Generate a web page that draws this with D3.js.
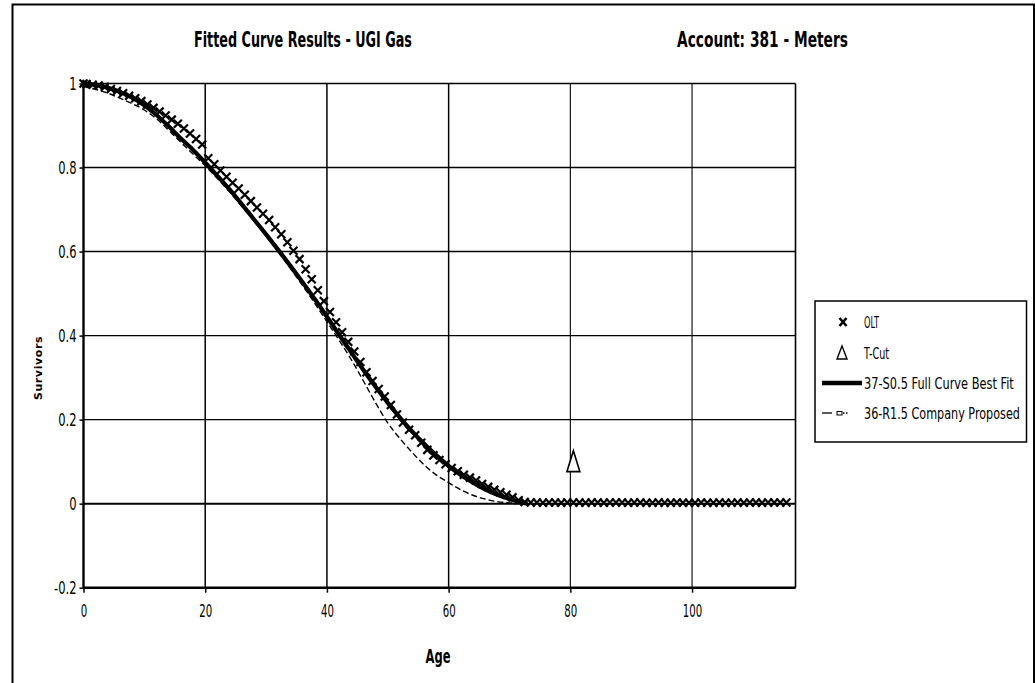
<!DOCTYPE html>
<html>
<head>
<meta charset="utf-8">
<script src="https://cdn.jsdelivr.net/npm/d3@7"></script>
<style>
  html, body { margin: 0; padding: 0; background: #fff; }
  svg { display: block; }
  text { font-family: "DejaVu Sans", "Liberation Sans", sans-serif; fill: #000; }
</style>
</head>
<body>
<svg id="chart" width="1035" height="683"></svg>
<script>
// ---------------- DATA ----------------
const titleLeft = "Fitted Curve Results - UGI Gas";
const titleRight = "Account:  381 - Meters";
const xLabel = "Age";
const yLabel = "Survivors";

const xTicks = [0, 20, 40, 60, 80, 100];
const yTicks = [1, 0.8, 0.6, 0.4, 0.2, 0, -0.2];
const yTickLabels = ["1", "0.8", "0.6", "0.4", "0.2", "0", "-0.2"];

// OLT (observed life table) ages and survivor ratios
const oltAges = [0, 0.5, 1.5, 2.5, 3.5, 4.5, 5.5, 6.5, 7.5, 8.5, 9.5, 10.5, 11.5, 12.5, 13.5, 14.5, 15.5, 16.5, 17.5, 18.5, 19.5,
  20.5, 21.5, 22.5, 23.5, 24.5, 25.5, 26.5, 27.5, 28.5, 29.5, 30.5, 31.5, 32.5, 33.5, 34.5, 35.5, 36.5, 37.5, 38.5, 39.5,
  40.5, 41.5, 42.5, 43.5, 44.5, 45.5, 46.5, 47.5, 48.5, 49.5, 50.5, 51.5, 52.5, 53.5, 54.5, 55.5, 56.5, 57.5, 58.5, 59.5,
  60.5, 61.5, 62.5, 63.5, 64.5, 65.5, 66.5, 67.5, 68.5, 69.5, 70.5, 71.5, 72.5, 73.5, 74.5, 75.5, 76.5, 77.5, 78.5, 79.5,
  80.5, 81.5, 82.5, 83.5, 84.5, 85.5, 86.5, 87.5, 88.5, 89.5, 90.5, 91.5, 92.5, 93.5, 94.5, 95.5, 96.5, 97.5, 98.5, 99.5,
  100.5, 101.5, 102.5, 103.5, 104.5, 105.5, 106.5, 107.5, 108.5, 109.5, 110.5, 111.5, 112.5, 113.5, 114.5, 115.5];
const oltValues = [1.000, 0.999, 0.997, 0.995, 0.992, 0.987, 0.982, 0.977, 0.971, 0.965, 0.958, 0.950, 0.942, 0.933, 0.924, 0.914, 0.904, 0.893, 0.881, 0.868, 0.855,
  0.822, 0.808, 0.793, 0.778, 0.764, 0.750, 0.735, 0.720, 0.705, 0.690, 0.675, 0.658, 0.641, 0.622, 0.602, 0.582, 0.558, 0.534, 0.508, 0.482,
  0.456, 0.432, 0.408, 0.385, 0.362, 0.337, 0.313, 0.292, 0.273, 0.255, 0.235, 0.212, 0.193, 0.176, 0.163, 0.145, 0.128, 0.115, 0.104, 0.094,
  0.085, 0.077, 0.069, 0.062, 0.055, 0.047, 0.040, 0.033, 0.027, 0.021, 0.015, 0.008, 0.004, 0.003, 0.003, 0.002, 0.003, 0.003, 0.002, 0.003,
  0.003, 0.003, 0.002, 0.003, 0.003, 0.002, 0.003, 0.003, 0.003, 0.002, 0.003, 0.003, 0.002, 0.002, 0.003, 0.002, 0.002, 0.003, 0.002, 0.002,
  0.002, 0.003, 0.002, 0.002, 0.003, 0.002, 0.002, 0.003, 0.002, 0.003, 0.003, 0.002, 0.003, 0.003, 0.003, 0.003];

// Fitted Iowa curves
const curveAges = [0, 2, 4, 6, 8, 10, 12, 14, 16, 18, 20, 22, 24, 26, 28, 30, 32, 34, 36, 38, 40,
  42, 44, 46, 48, 50, 52, 54, 56, 58, 60, 62, 64, 66, 68, 70, 72, 73];
const s05Values = [1.000, 0.997, 0.990, 0.980, 0.966, 0.948, 0.925, 0.898, 0.869, 0.842, 0.812, 0.780, 0.748, 0.713, 0.677, 0.641, 0.604, 0.566, 0.527, 0.487, 0.445,
  0.402, 0.360, 0.318, 0.278, 0.240, 0.205, 0.172, 0.142, 0.115, 0.090, 0.068, 0.050, 0.034, 0.021, 0.011, 0.003, 0.000];
const r15Values = [0.993, 0.986, 0.977, 0.965, 0.952, 0.937, 0.916, 0.889, 0.860, 0.832, 0.804, 0.774, 0.742, 0.708, 0.673, 0.637, 0.599, 0.560, 0.519, 0.477, 0.433,
  0.389, 0.343, 0.292, 0.240, 0.192, 0.155, 0.122, 0.092, 0.068, 0.050, 0.033, 0.020, 0.011, 0.005, 0.002, 0.000, 0.000];

const tCutAge = [80.5];
const tCutValue = [0.1];

const legendLabels = ["OLT", "T-Cut", "37-S0.5 Full Curve Best Fit", "36-R1.5 Company Proposed"];

// ---------------- LAYOUT ----------------
const svg = d3.select("#chart");
const plot = { left: 83.5, right: 795.5, top: 83.5, bottom: 587.7 };
const x = d3.scaleLinear().domain([0, 117]).range([plot.left, plot.right]);
const y = d3.scaleLinear().domain([-0.2, 1]).range([plot.bottom, plot.top]);

// text helper: draw text, then squeeze it horizontally to a measured width
function fitText(g, str, px, py, size, width, weight, anchor) {
  const t = g.append("text").attr("x", 0).attr("y", 0).attr("font-size", size)
    .attr("font-weight", weight || "normal").attr("text-anchor", anchor || "start").text(str);
  const w = t.node().getComputedTextLength();
  const k = width / w;
  t.attr("transform", `translate(${px},${py}) scale(${k},1)`);
  return t;
}
function squeeze(sel, k, baseX) {
  sel.each(function () {
    d3.select(this).attr("x", baseX / k).attr("transform", `scale(${k},1)`);
  });
}

// outer frame
svg.append("rect").attr("x", 12.5).attr("y", 4.5).attr("width", 1021.5).attr("height", 700)
  .attr("fill", "none").attr("stroke", "#000").attr("stroke-width", 2);

// titles
fitText(svg, titleLeft, 194, 47, 21.5, 218, "bold");
fitText(svg, titleRight, 677, 47, 21.5, 171, "bold");

// gridlines
const grid = svg.append("g");
grid.selectAll("line.h").data(yTicks).enter().append("line")
  .attr("x1", plot.left).attr("x2", plot.right)
  .attr("y1", d => y(d)).attr("y2", d => y(d))
  .attr("stroke", "#000").attr("stroke-width", d => d === 0 ? 2 : 1.4);
grid.selectAll("line.v").data(xTicks.filter(d => d > 0)).enter().append("line")
  .attr("x1", d => x(d)).attr("x2", d => x(d))
  .attr("y1", plot.top).attr("y2", plot.bottom)
  .attr("stroke", "#000").attr("stroke-width", d => d >= 80 ? 1.1 : 1.5);
grid.append("line").attr("x1", plot.right).attr("x2", plot.right).attr("y1", plot.top).attr("y2", plot.bottom)
  .attr("stroke", "#000").attr("stroke-width", 1.6);

// axes
const yAxis = d3.axisLeft(y).tickValues(yTicks).tickSize(4).tickFormat((d, i) => yTickLabels[i]);
const gy = svg.append("g").attr("transform", `translate(${plot.left},0)`).call(yAxis);
const xAxis = d3.axisBottom(x).tickValues(xTicks).tickSize(5).tickFormat(d3.format("d"));
const gx = svg.append("g").attr("transform", `translate(0,${plot.bottom})`).call(xAxis);
[gx, gy].forEach(g => {
  g.select(".domain").attr("stroke", "#000").attr("stroke-width", 2.4);
  g.selectAll(".tick line").attr("stroke", "#000").attr("stroke-width", 1.5);
  g.selectAll(".tick text").attr("font-family", null).attr("font-size", 17).attr("fill", "#000");
});
gx.select(".domain").attr("d", `M${plot.left},0H${plot.right}`);
gy.select(".domain").attr("d", `M0,${plot.top}V${plot.bottom}`);
gx.selectAll(".tick text").attr("y", 17).attr("dy", "0.71em");
squeeze(gx.selectAll(".tick text"), 0.6, 0);
gy.selectAll(".tick text").attr("dy", "0.36em");
squeeze(gy.selectAll(".tick text"), 0.68, -7);

// axis titles
fitText(svg, xLabel, 438, 663, 19, 25, "bold", "middle");
svg.append("text").attr("transform", "translate(42,368) rotate(-90)").attr("text-anchor", "middle")
  .attr("font-size", 11).attr("font-weight", "bold").attr("letter-spacing", "0.6px").text(yLabel);

// curves
const s05 = curveAges.map((a, i) => [a, s05Values[i]]);
const r15 = curveAges.map((a, i) => [a, r15Values[i]]);
const line = d3.line().x(d => x(d[0])).y(d => y(d[1])).curve(d3.curveMonotoneX);

svg.append("path").datum(r15).attr("d", line).attr("fill", "none")
  .attr("stroke", "#000").attr("stroke-width", 1.4).attr("stroke-dasharray", "6,3");
svg.append("path").datum(s05).attr("d", line).attr("fill", "none")
  .attr("stroke", "#000").attr("stroke-width", 4.2);

// OLT markers
const xMark = "M-4,-4L4,4M-4,4L4,-4";
svg.append("g").selectAll("path").data(oltAges.map((a, i) => [a, oltValues[i]])).enter().append("path")
  .attr("d", xMark).attr("transform", d => `translate(${x(d[0])},${y(d[1])})`)
  .attr("fill", "none").attr("stroke", "#000").attr("stroke-width", 2.2);

// T-Cut
svg.append("g").selectAll("path").data(tCutAge.map((a, i) => [a, tCutValue[i]])).enter().append("path")
  .attr("d", "M0,-11L6.5,10L-6.5,10Z")
  .attr("transform", d => `translate(${x(d[0])},${y(d[1])})`)
  .attr("fill", "#fff").attr("stroke", "#000").attr("stroke-width", 1.6);

// legend
const lg = svg.append("g");
lg.append("rect").attr("x", 815).attr("y", 301).attr("width", 211.5).attr("height", 141)
  .attr("fill", "#fff").attr("stroke", "#000").attr("stroke-width", 1.5);
const rowsY = [322, 353, 383, 413];
lg.append("path").attr("d", "M-3.5,-4L3.5,4M-3.5,4L3.5,-4").attr("transform", `translate(843,${rowsY[0]})`)
  .attr("stroke", "#000").attr("stroke-width", 2.6).attr("fill", "none");
lg.append("path").attr("d", "M0,-7L5,6L-5,6Z").attr("transform", `translate(842,${rowsY[1]})`)
  .attr("stroke", "#000").attr("stroke-width", 1.4).attr("fill", "#fff");
lg.append("line").attr("x1", 822).attr("x2", 862).attr("y1", rowsY[2]).attr("y2", rowsY[2])
  .attr("stroke", "#000").attr("stroke-width", 4.5);
lg.append("line").attr("x1", 822).attr("x2", 832).attr("y1", rowsY[3]).attr("y2", rowsY[3])
  .attr("stroke", "#000").attr("stroke-width", 1.3);
lg.append("rect").attr("x", 837).attr("y", rowsY[3] - 1.5).attr("width", 5).attr("height", 3.5)
  .attr("fill", "#fff").attr("stroke", "#000").attr("stroke-width", 1);
lg.append("line").attr("x1", 843).attr("x2", 849).attr("y1", rowsY[3]).attr("y2", rowsY[3])
  .attr("stroke", "#000").attr("stroke-width", 1.3).attr("stroke-dasharray", "1.5,1.5");
const legendWidths = [15, 25, 150, 156];
legendLabels.forEach((d, i) => fitText(lg, d, 864, rowsY[i] + 5.5, 15, legendWidths[i], "normal"));
</script>
</body>
</html>
